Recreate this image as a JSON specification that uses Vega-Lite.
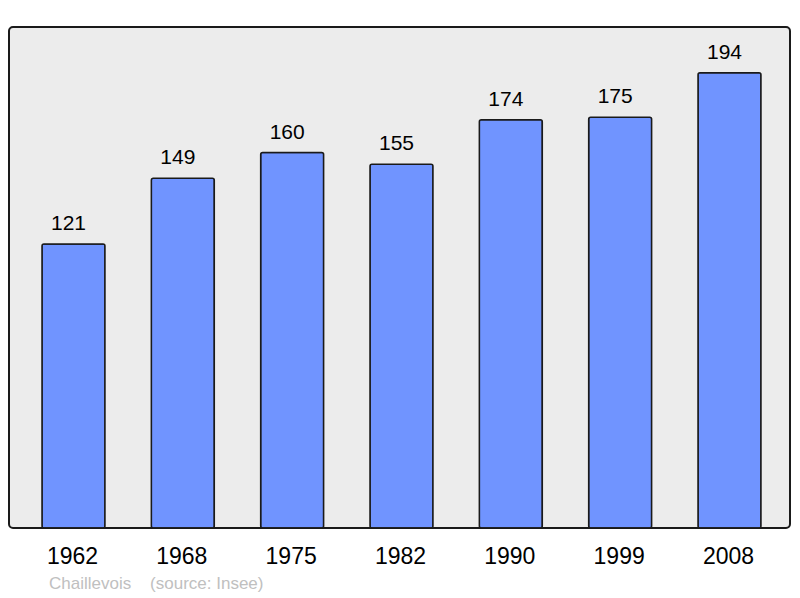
{
  "$schema": "https://vega.github.io/schema/vega-lite/v6.json",
  "description": "Population of Chaillevois by census year.",
  "autosize": "none",
  "width": 781,
  "height": 501,
  "padding": {"left": 9, "top": 27, "right": 10, "bottom": 70},
  "background": "white",
  "data": {
    "values": [
      {"year": "1962", "population": 121},
      {"year": "1968", "population": 149},
      {"year": "1975", "population": 160},
      {"year": "1982", "population": 155},
      {"year": "1990", "population": 174},
      {"year": "1999", "population": 175},
      {"year": "2008", "population": 194}
    ]
  },
  "title": {
    "text": "Chaillevois\u00a0\u00a0\u00a0 (source: Insee)",
    "orient": "bottom",
    "anchor": "start",
    "dx": 40,
    "offset": 8,
    "fontSize": 17,
    "fontWeight": "normal",
    "color": "#c0c0c0",
    "font": "Liberation Sans"
  },
  "encoding": {
    "x": {
      "field": "year",
      "type": "ordinal",
      "scale": {"paddingInner": 0.424, "paddingOuter": 0.2836, "align": 0.532},
      "axis": {
        "title": null,
        "labelAngle": 0,
        "domain": false,
        "ticks": false,
        "labelPadding": 17,
        "labelFontSize": 23,
        "labelColor": "black",
        "labelFont": "Liberation Sans",
        "labelOffset": -1
      }
    },
    "y": {
      "field": "population",
      "type": "quantitative",
      "scale": {"domain": [0, 213.5], "nice": false},
      "axis": null
    }
  },
  "layer": [
    {
      "mark": {
        "type": "bar",
        "fill": "#7094ff",
        "stroke": "#1a1a1a",
        "strokeWidth": 1.5,
        "cornerRadius": 2
      }
    },
    {
      "mark": {
        "type": "text",
        "baseline": "alphabetic",
        "dx": -5,
        "dy": -14,
        "fontSize": 21,
        "font": "Liberation Sans",
        "color": "black"
      },
      "encoding": {"text": {"field": "population", "type": "quantitative"}}
    }
  ],
  "config": {
    "view": {
      "fill": "#ececec",
      "stroke": "#1a1a1a",
      "strokeWidth": 2,
      "cornerRadius": 4
    },
    "axis": {"grid": false}
  }
}
